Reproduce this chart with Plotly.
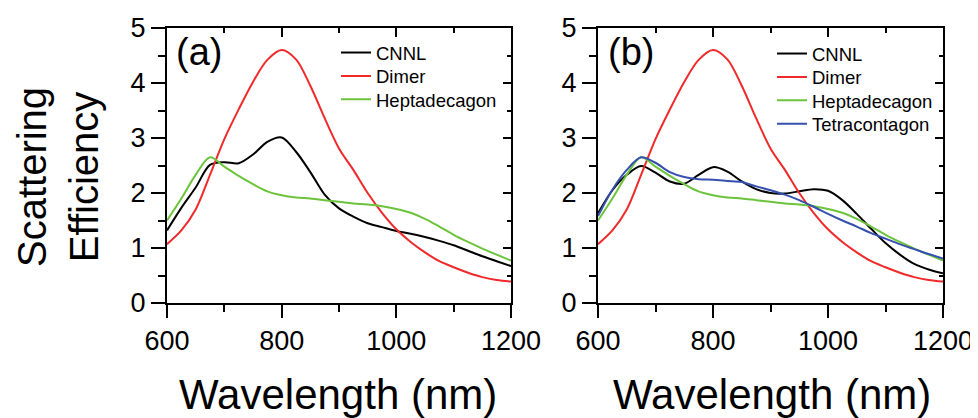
import plotly.graph_objects as go

wavelength = [600, 625, 650, 675, 700, 725, 750, 775, 800, 825, 850, 875, 900,
              925, 950, 975, 1000, 1025, 1050, 1075, 1100, 1125, 1150, 1175, 1200]

dimer = [1.07, 1.32, 1.70, 2.33, 2.98, 3.52, 4.02, 4.42, 4.60, 4.43, 3.95, 3.36, 2.81,
         2.42, 2.00, 1.64, 1.34, 1.11, 0.92, 0.76, 0.65, 0.55, 0.47, 0.42, 0.39]

hepta = [1.50, 1.90, 2.33, 2.65, 2.48, 2.31, 2.16, 2.03, 1.96, 1.92, 1.90, 1.87, 1.84,
         1.81, 1.79, 1.76, 1.71, 1.64, 1.53, 1.39, 1.24, 1.11, 0.99, 0.88, 0.77]

cnnl_a = [1.32, 1.73, 2.10, 2.51, 2.56, 2.54, 2.70, 2.93, 3.01, 2.75, 2.38, 1.97, 1.72,
          1.57, 1.45, 1.38, 1.31, 1.26, 1.20, 1.13, 1.05, 0.95, 0.85, 0.76, 0.67]

cnnl_b = [1.63, 2.05, 2.33, 2.49, 2.37, 2.21, 2.17, 2.33, 2.47, 2.39, 2.21, 2.07, 2.00,
          1.99, 2.03, 2.07, 2.04, 1.87, 1.62, 1.35, 1.09, 0.88, 0.71, 0.61, 0.54]

tetra = [1.58, 2.06, 2.42, 2.65, 2.55, 2.38, 2.29, 2.25, 2.24, 2.22, 2.20, 2.12, 2.05,
         1.97, 1.87, 1.75, 1.62, 1.50, 1.39, 1.27, 1.17, 1.07, 0.98, 0.89, 0.81]

x_ticks = [600, 800, 1000, 1200]
y_ticks = [0, 1, 2, 3, 4, 5]

BLACK = "#000000"
RED = "#f02a2a"
GREEN = "#6cc43c"
BLUE = "#3550ae"
FONT = "Arial, Liberation Sans, sans-serif"

W, H = 978, 418
OFF = 8  # page body margin offset


def fx(px):
    return (px - OFF) / W


def fy(py):
    return (H - (py - OFF)) / H


fig = go.Figure()

series_a = [("CNNL", cnnl_a, BLACK), ("Dimer", dimer, RED), ("Heptadecagon", hepta, GREEN)]
series_b = [("CNNL", cnnl_b, BLACK), ("Dimer", dimer, RED), ("Heptadecagon", hepta, GREEN),
            ("Tetracontagon", tetra, BLUE)]

legend_common = dict(font=dict(family=FONT, size=18.5, color="black"), bgcolor="rgba(0,0,0,0)",
                     borderwidth=0, itemwidth=30, xanchor="left", yanchor="middle")

legends = {}
lg_index = 1
for series, xa, ya, lx, ly0 in [(series_a, "x", "y", 336, 53),
                                (series_b, "x2", "y2", 772, 54)]:
    for i, (name, vals, color) in enumerate(series):
        key = "legend" if lg_index == 1 else f"legend{lg_index}"
        legends[key] = dict(x=fx(lx), y=fy(ly0 + 23.4 * i), **legend_common)
        fig.add_trace(go.Scatter(x=wavelength, y=vals, name=name, mode="lines",
                                 line=dict(color=color, width=2, shape="spline", smoothing=0.9),
                                 xaxis=xa, yaxis=ya, legend=key))
        lg_index += 1

# empty traces to activate the mirrored (inward tick) axes
fig.add_trace(go.Scatter(x=[], y=[], xaxis="x3", yaxis="y3", showlegend=False))
fig.add_trace(go.Scatter(x=[], y=[], xaxis="x4", yaxis="y4", showlegend=False))

xa_dom = [fx(167), fx(511)]
xb_dom = [fx(598), fx(943)]
y_dom = [fy(303), fy(28)]

tickfont = dict(family=FONT, size=27, color="black")


def xaxis(dom, anchor):
    return dict(domain=dom, anchor=anchor, range=[600, 1200], tickvals=x_ticks,
                ticks="outside", ticklen=13, tickwidth=2, tickcolor="black",
                minor=dict(dtick=100, tick0=600, ticks="outside", ticklen=7, tickwidth=2, tickcolor="black"),
                showline=True, linewidth=2, linecolor="black", mirror=True,
                showgrid=False, zeroline=False, tickfont=tickfont, fixedrange=True, automargin=False)


def yaxis(dom, anchor):
    return dict(domain=dom, anchor=anchor, range=[0, 5], tickvals=y_ticks,
                ticks="outside", ticklen=14, tickwidth=2, tickcolor="black",
                minor=dict(dtick=0.5, tick0=0, ticks="outside", ticklen=7, tickwidth=2, tickcolor="black"),
                showline=True, linewidth=2, linecolor="black", mirror=True,
                showgrid=False, zeroline=False, tickfont=tickfont, fixedrange=True, automargin=False)


def xtop(over, anchor):
    return dict(overlaying=over, anchor=anchor, side="top", range=[600, 1200], tickvals=x_ticks,
                ticks="inside", ticklen=9, tickwidth=2, tickcolor="black",
                minor=dict(dtick=100, tick0=600, ticks="inside", ticklen=5, tickwidth=2, tickcolor="black"),
                showticklabels=False, showline=False, showgrid=False, zeroline=False,
                fixedrange=True, automargin=False)


def yright(over, anchor):
    return dict(overlaying=over, anchor=anchor, side="right", range=[0, 5], tickvals=y_ticks,
                ticks="inside", ticklen=8, tickwidth=2, tickcolor="black",
                minor=dict(dtick=0.5, tick0=0, ticks="inside", ticklen=4, tickwidth=2, tickcolor="black"),
                showticklabels=False, showline=False, showgrid=False, zeroline=False,
                fixedrange=True, automargin=False)


fig.update_layout(
    width=W, height=H,
    margin=dict(l=0, r=0, t=0, b=0, pad=0, autoexpand=False),
    paper_bgcolor="white", plot_bgcolor="white",
    showlegend=True,
    xaxis=xaxis(xa_dom, "y"),
    yaxis=yaxis(y_dom, "x"),
    xaxis2=xaxis(xb_dom, "y2"),
    yaxis2=yaxis(y_dom, "x2"),
    xaxis3=xtop("x", "y"),
    yaxis3=yright("y", "x"),
    xaxis4=xtop("x2", "y2"),
    yaxis4=yright("y2", "x2"),
    annotations=[
        dict(text="(a)", x=fx(174), y=fy(52), xref="paper", yref="paper",
             xanchor="left", yanchor="middle", showarrow=False,
             font=dict(family=FONT, size=38, color="black")),
        dict(text="(b)", x=fx(606), y=fy(52), xref="paper", yref="paper",
             xanchor="left", yanchor="middle", showarrow=False,
             font=dict(family=FONT, size=38, color="black")),
        dict(text="Wavelength (nm)", x=fx(338), y=fy(394), xref="paper", yref="paper",
             xanchor="center", yanchor="middle", showarrow=False,
             font=dict(family=FONT, size=42, color="black")),
        dict(text="Wavelength (nm)", x=fx(772), y=fy(394), xref="paper", yref="paper",
             xanchor="center", yanchor="middle", showarrow=False,
             font=dict(family=FONT, size=42, color="black")),
        dict(text="Scattering<br>Efficiency", x=fx(58), y=fy(177), xref="paper", yref="paper",
             xanchor="center", yanchor="middle", showarrow=False, textangle=-90,
             font=dict(family=FONT, size=40, color="black")),
    ],
)
fig.update_layout(**legends)

fig.write_html("out.html")
